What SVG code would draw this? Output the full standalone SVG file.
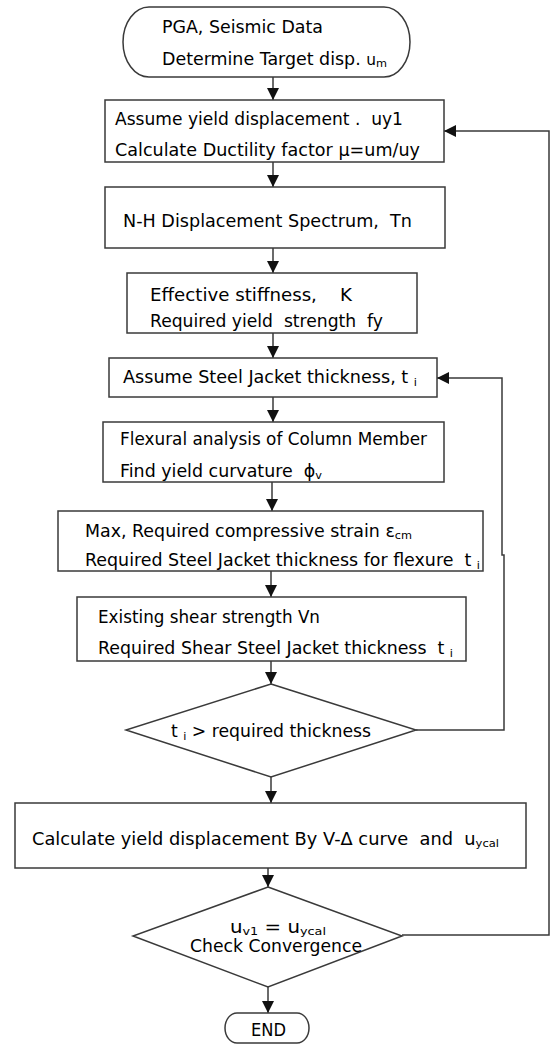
<svg xmlns="http://www.w3.org/2000/svg" width="551" height="1046" viewBox="0 0 551 1046" xml:space="preserve">
<style>
.shape{fill:#fff;stroke:#3a3a3a;stroke-width:1.5}
.conn{fill:none;stroke:#3a3a3a;stroke-width:1.5}
text{font-family:"DejaVu Sans","Liberation Sans",sans-serif;font-size:17px;fill:#000;white-space:pre}
.sub{font-size:11px}
</style>
<defs>
<marker id="arr" markerUnits="userSpaceOnUse" markerWidth="12" markerHeight="12" refX="12" refY="6" orient="auto">
<path d="M0,0 L12,6 L0,12 z" fill="#111"/>
</marker>
</defs>
<rect width="551" height="1046" fill="#fff"/>
<g id="connectors">
<line class="conn" x1="273" y1="77" x2="273" y2="100" marker-end="url(#arr)"/>
<line class="conn" x1="273" y1="162" x2="273" y2="187" marker-end="url(#arr)"/>
<line class="conn" x1="273" y1="248" x2="273" y2="273" marker-end="url(#arr)"/>
<line class="conn" x1="273" y1="333" x2="273" y2="358" marker-end="url(#arr)"/>
<line class="conn" x1="273" y1="397" x2="273" y2="422" marker-end="url(#arr)"/>
<line class="conn" x1="272" y1="482" x2="272" y2="511" marker-end="url(#arr)"/>
<line class="conn" x1="271" y1="571" x2="271" y2="597" marker-end="url(#arr)"/>
<line class="conn" x1="271" y1="661" x2="271" y2="684" marker-end="url(#arr)"/>
<line class="conn" x1="271" y1="777" x2="271" y2="803" marker-end="url(#arr)"/>
<line class="conn" x1="268" y1="868" x2="268" y2="887" marker-end="url(#arr)"/>
<line class="conn" x1="268" y1="987" x2="268" y2="1013" marker-end="url(#arr)"/>
<path class="conn" d="M416,730 H504 V555 H502 V378 H437" marker-end="url(#arr)"/>
<path class="conn" d="M402,935 H549 V131 H444" marker-end="url(#arr)"/>
</g>
<g id="start">
<rect class="shape" x="123" y="7" width="287" height="70" rx="26" ry="35"/>
<text x="162" y="33" textLength="161" lengthAdjust="spacingAndGlyphs">PGA, Seismic Data</text>
<text x="162" y="65" textLength="225" lengthAdjust="spacingAndGlyphs">Determine Target disp. <tspan font-size="15">u</tspan><tspan class="sub" dy="2">m</tspan></text>
</g>
<g id="assume-yield">
<rect class="shape" x="105" y="100" width="339" height="62"/>
<text x="115" y="125" textLength="288" lengthAdjust="spacingAndGlyphs">Assume yield displacement .  uy1</text>
<text x="115" y="156" textLength="305" lengthAdjust="spacingAndGlyphs">Calculate Ductility factor μ=um/uy</text>
</g>
<g id="spectrum">
<rect class="shape" x="105" y="187" width="340" height="61"/>
<text x="123" y="227" textLength="289" lengthAdjust="spacingAndGlyphs">N-H Displacement Spectrum,  Tn</text>
</g>
<g id="stiffness">
<rect class="shape" x="127" y="273" width="290" height="60"/>
<text x="150" y="301" textLength="202" lengthAdjust="spacingAndGlyphs">Effective stiffness,    K</text>
<text x="150" y="327" textLength="233" lengthAdjust="spacingAndGlyphs">Required yield  strength  fy</text>
</g>
<g id="assume-jacket">
<rect class="shape" x="109" y="358" width="328" height="39"/>
<text x="123" y="383" textLength="294" lengthAdjust="spacingAndGlyphs">Assume Steel Jacket thickness, t <tspan class="sub" dy="3">i</tspan></text>
</g>
<g id="flexural">
<rect class="shape" x="103" y="422" width="341" height="60"/>
<text x="120" y="445" textLength="307" lengthAdjust="spacingAndGlyphs">Flexural analysis of Column Member</text>
<text x="120" y="477" textLength="202" lengthAdjust="spacingAndGlyphs">Find yield curvature  ϕ<tspan class="sub" dy="2">v</tspan></text>
</g>
<g id="strain">
<rect class="shape" x="58" y="511" width="425" height="60"/>
<text x="85" y="537" textLength="327" lengthAdjust="spacingAndGlyphs">Max, Required compressive strain ε<tspan class="sub" dy="2">cm</tspan></text>
<text x="85" y="566" textLength="395" lengthAdjust="spacingAndGlyphs">Required Steel Jacket thickness for flexure  t <tspan class="sub" dy="3">i</tspan></text>
</g>
<g id="shear">
<rect class="shape" x="77" y="597" width="389" height="64"/>
<text x="98" y="623" textLength="222" lengthAdjust="spacingAndGlyphs">Existing shear strength Vn</text>
<text x="98" y="654" textLength="355" lengthAdjust="spacingAndGlyphs">Required Shear Steel Jacket thickness  t <tspan class="sub" dy="3">i</tspan></text>
</g>
<g id="check-thickness">
<polygon class="shape" points="271,684 416,730 271,777 126,730"/>
<text x="171" y="737" textLength="200" lengthAdjust="spacingAndGlyphs">t <tspan class="sub" dy="3">i</tspan><tspan dy="-3"> &gt; required thickness</tspan></text>
</g>
<g id="calc-yield">
<rect class="shape" x="15" y="803" width="511" height="65"/>
<text x="32" y="845" textLength="467" lengthAdjust="spacingAndGlyphs">Calculate yield displacement By V-Δ curve  and  u<tspan class="sub" dy="2">ycal</tspan></text>
</g>
<g id="check-convergence">
<polygon class="shape" points="268,887 402,936 268,987 133,936"/>
<text x="230" y="933" textLength="96" lengthAdjust="spacingAndGlyphs">u<tspan class="sub" dy="2">v1</tspan><tspan dy="-2"> = u</tspan><tspan class="sub" dy="2">ycal</tspan></text>
<text x="190" y="952" textLength="172" lengthAdjust="spacingAndGlyphs">Check Convergence</text>
</g>
<g id="end">
<rect class="shape" x="225" y="1013" width="84" height="30" rx="12" ry="15"/>
<text x="251" y="1036" textLength="35" lengthAdjust="spacingAndGlyphs">END</text>
</g>
</svg>
